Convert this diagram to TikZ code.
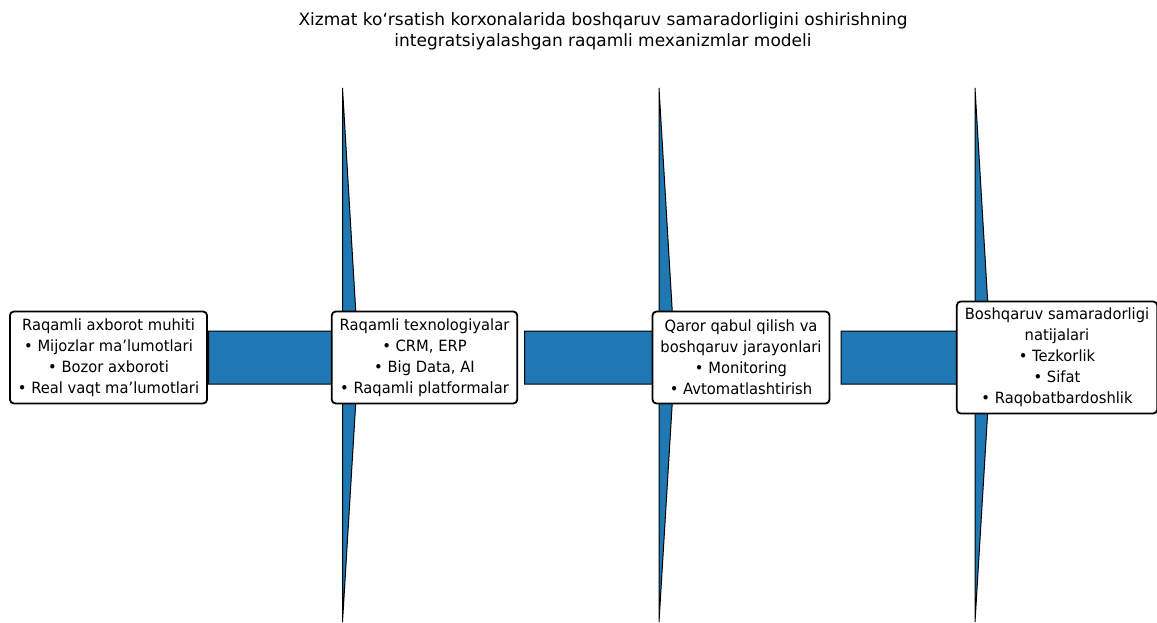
\documentclass[tikz,border=0pt]{standalone}
\usepackage{fontspec}
\setmainfont{DejaVu Sans}
\newfontfamily\boxfont{DejaVu Sans}[FakeStretch=0.95]
\usetikzlibrary{calc}
\definecolor{mplblue}{HTML}{1F77B4}
\tikzset{
  stagebox/.style={draw=black, line width=1.8pt, fill=white, rounded corners=4pt,
    align=center, inner xsep=8pt, inner ysep=3pt,
    font=\boxfont\fontsize{15.5}{21}\selectfont},
  bigarrow/.style={fill=mplblue, draw=black, line width=1pt, line join=miter},
  titletext/.style={align=center, font=\fontsize{17}{21}\selectfont}
}
% #1 tail node, #2 head node, #3 head base offset from head node centre
\newcommand{\wedgearrow}[3]{%
  \draw[bigarrow] ($(#1.center)+(100,-26.5)$) -- ($(#2.center)+(#3,-26.5)$)
    -- ($(#2.center)+(#3,-269.5)$) -- ($(#2.center)+(#3+16,0)$)
    -- ($(#2.center)+(#3,264.5)$) -- ($(#2.center)+(#3,26.5)$)
    -- ($(#1.center)+(100,26.5)$) -- cycle;}
\begin{document}
\begin{tikzpicture}[x=1pt,y=-1pt]
\useasboundingbox (0,0) rectangle (1157,623);
\node[titletext] (title) at (603,31) {Xizmat ko‘rsatish korxonalarida boshqaruv samaradorligini oshirishning\\integratsiyalashgan raqamli mexanizmlar modeli};
\coordinate (c1) at (108.5,357.5);
\coordinate (c2) at (424.5,357.5);
\coordinate (c3) at (741,357.5);
\coordinate (c4) at (1057,357.5);
\wedgearrow{c1}{c2}{-82}
\wedgearrow{c2}{c3}{-82}
\wedgearrow{c3}{c4}{-82}
\node[stagebox, minimum height=92pt] (b1) at (c1) {Raqamli axborot muhiti\\• Mijozlar ma’lumotlari\\• Bozor axboroti\\• Real vaqt ma’lumotlari};
\node[stagebox, minimum height=92pt] (b2) at (c2) {Raqamli texnologiyalar\\• CRM, ERP\\• Big Data, AI\\• Raqamli platformalar};
\node[stagebox, minimum height=92pt] (b3) at (c3) {Qaror qabul qilish va\\boshqaruv jarayonlari\\• Monitoring\\• Avtomatlashtirish};
\node[stagebox, minimum height=112pt] (b4) at (c4) {Boshqaruv samaradorligi\\natijalari\\• Tezkorlik\\• Sifat\\• Raqobatbardoshlik};
\end{tikzpicture}
\end{document}
